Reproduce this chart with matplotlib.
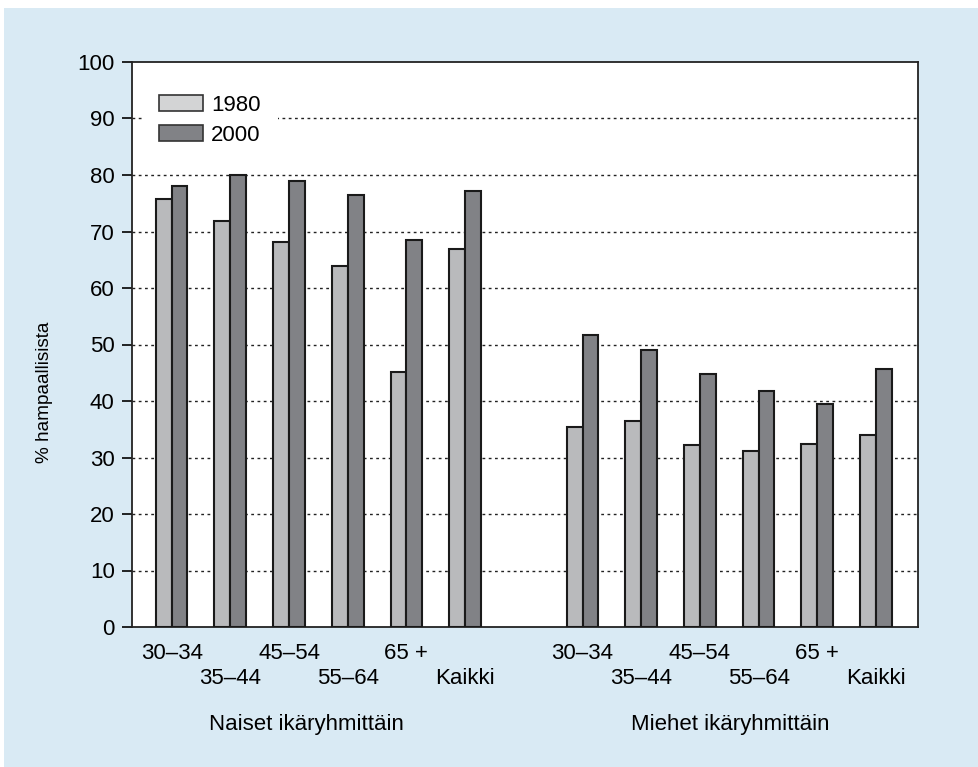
import matplotlib.pyplot as plt
from matplotlib.patches import Patch, Rectangle
import numpy as np

plt.rcParams['font.family'] = ['Liberation Sans', 'DejaVu Sans']

groups = ['30–34', '35–44', '45–54', '55–64', '65 +', 'Kaikki']
women_1980 = [75.7, 71.8, 68.1, 63.9, 45.2, 66.9]
women_2000 = [78.0, 80.0, 79.0, 76.4, 68.5, 77.1]
men_1980 = [35.4, 36.5, 32.2, 31.1, 32.4, 33.9]
men_2000 = [51.7, 49.0, 44.7, 41.8, 39.5, 45.6]
sections = ['Naiset ikäryhmittäin', 'Miehet ikäryhmittäin']
years = ['1980', '2000']

bg = '#d9eaf4'
light = '#b9babc'
light_leg = '#d3d4d5'
dark = '#818286'

fig = plt.figure(figsize=(9.79, 7.67), dpi=100)
fig.patch.set_facecolor('white')
fig.patches.append(Rectangle((4/979, 0), 1, 1 - 8/767, transform=fig.transFigure,
                             facecolor=bg, edgecolor='none', zorder=-10))
ax = fig.add_axes([132/979, 1 - 627/767, (918-132)/979, (627-62)/767])

pos = np.concatenate([np.arange(6), np.arange(6) + 7])
v1980 = women_1980 + men_1980
v2000 = women_2000 + men_2000
w = 0.27
ax.bar(pos - w/2, v1980, w, color=light, edgecolor='#1a1a1a', linewidth=1.5, zorder=3)
ax.bar(pos + w/2, v2000, w, color=dark, edgecolor='#1a1a1a', linewidth=1.5, zorder=3)

ax.set_xlim(-0.675, 12.715)
ax.set_ylim(0, 100)
ax.set_yticks(range(0, 101, 10))
ax.tick_params(axis='y', labelsize=16, length=7, width=1.2, direction='out', pad=5.5)
ax.set_xticks(pos)
labels = [g if i % 2 == 0 else '\n' + g for i, g in enumerate(groups)] * 2
ax.set_xticklabels(labels, fontsize=16, linespacing=1.27)
ax.tick_params(axis='x', length=0, pad=11.5)
for y in range(10, 100, 10):
    ax.axhline(y, color='#222222', linestyle=(0, (2, 2.5)), linewidth=1, zorder=1)
for s in ax.spines.values():
    s.set_linewidth(1.3)
    s.set_color('#222222')

ax.text(2.29, -17.3, sections[0], ha='center', va='center', fontsize=16)
ax.text(9.52, -17.3, sections[1], ha='center', va='center', fontsize=16)
fig.text(45/979, 1 - 392/767, '% hampaallisista', rotation=90, ha='center', va='center', fontsize=13.7)

handles = [Patch(facecolor=light_leg, edgecolor='#333333', linewidth=1.2),
           Patch(facecolor=dark, edgecolor='#333333', linewidth=1.2)]
leg = ax.legend(handles, years, loc='upper left', bbox_to_anchor=(0.0127, 0.972),
                fontsize=16, frameon=True, fancybox=False, framealpha=1,
                edgecolor='none', facecolor='white', handlelength=1.98, handleheight=0.7,
                labelspacing=0.4, handletextpad=0.36, borderpad=0.77, borderaxespad=0)
leg.set_zorder(5)

fig.savefig('out.png', dpi=100, facecolor=fig.get_facecolor())
